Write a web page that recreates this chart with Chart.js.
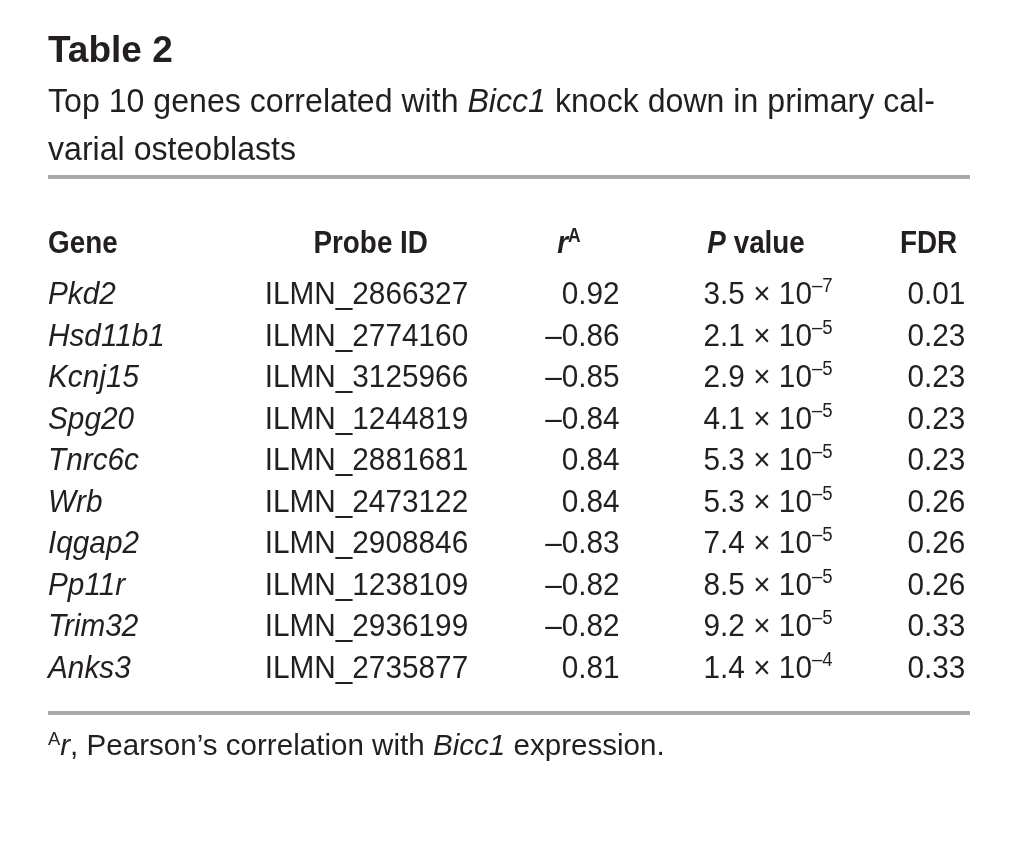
<!DOCTYPE html>
<html>
<head>
<meta charset="utf-8">
<script src="https://cdn.jsdelivr.net/npm/chart.js@4.4.1/dist/chart.umd.min.js"></script>
<style>
  body { margin: 0; background: #fff; }
  canvas { display: block; }
</style>
</head>
<body>
<canvas id="table" width="1018" height="866"></canvas>
<script>
// table data
const genes = ["Pkd2", "Hsd11b1", "Kcnj15", "Spg20", "Tnrc6c", "Wrb", "Iqgap2", "Pp11r", "Trim32", "Anks3"];
const probeIds = ["ILMN_2866327", "ILMN_2774160", "ILMN_3125966", "ILMN_1244819", "ILMN_2881681",
  "ILMN_2473122", "ILMN_2908846", "ILMN_1238109", "ILMN_2936199", "ILMN_2735877"];
const rValues = [0.92, -0.86, -0.85, -0.84, 0.84, 0.84, -0.83, -0.82, -0.82, 0.81];
const pMantissa = [3.5, 2.1, 2.9, 4.1, 5.3, 5.3, 7.4, 8.5, 9.2, 1.4];
const pExponent = [-7, -5, -5, -5, -5, -5, -5, -5, -5, -4];
const fdrValues = [0.01, 0.23, 0.23, 0.23, 0.23, 0.26, 0.26, 0.26, 0.33, 0.33];

const SANS = '"Liberation Sans", Arial, sans-serif';
const INK = "#231f20";
const RULE = "#a7a9ac";

const fmt = v => (v < 0 ? "\u2013" : "") + Math.abs(v).toFixed(2);

// draw a line of mixed-style text runs: [text, font, dy], squeezed by sx
function drawRuns(ctx, runs, x, y, align, sx) {
  let total = 0;
  runs.forEach(r => { ctx.font = r[1]; total += ctx.measureText(r[0]).width; });
  const start = align === "right" ? x - total * sx : align === "center" ? x - total * sx / 2 : x;
  ctx.save();
  ctx.translate(start, y);
  ctx.scale(sx, 1);
  ctx.textAlign = "left";
  ctx.textBaseline = "alphabetic";
  let cx = 0;
  runs.forEach(r => {
    ctx.font = r[1];
    ctx.fillText(r[0], cx, r[2] || 0);
    cx += ctx.measureText(r[0]).width;
  });
  ctx.restore();
}

const body = "32px " + SANS, bodyI = "italic 32px " + SANS, sup = "20px " + SANS;
const head = "bold 32px " + SANS, headI = "italic bold 32px " + SANS, headSup = "bold 20px " + SANS;
const BODY_SX = 0.93, HEAD_SX = 0.87, SUB_SX = 0.973;

// column anchors on the x scale (0..1 across the table width)
const col = { gene: 0, probeHead: 0.350, probe: 0.235, rHead: 0.565, r: 0.620,
  pHead: 0.768, p: 0.711, fdrHead: 0.986, fdr: 0.995 };

const tablePlugin = {
  id: "tableText",
  afterDraw(chart) {
    const { ctx, chartArea, scales: { x, y } } = chart;
    const X = v => x.getPixelForValue(v);
    const base = 11; // baseline below row centre
    ctx.fillStyle = INK;

    // title block
    drawRuns(ctx, [["Table 2", "bold 37px " + SANS]], chartArea.left, 62, "left", 1);
    const sub = "33px " + SANS, subI = "italic 33px " + SANS;
    drawRuns(ctx, [["Top 10 genes correlated with ", sub], ["Bicc1", subI], [" knock down in primary cal-", sub]],
      chartArea.left, 112, "left", SUB_SX);
    drawRuns(ctx, [["varial osteoblasts", sub]], chartArea.left, 160, "left", SUB_SX);

    // rules
    ctx.fillStyle = RULE;
    ctx.fillRect(chartArea.left, chartArea.top - 118, chartArea.width, 4);
    ctx.fillRect(chartArea.left, chartArea.bottom + 44, chartArea.width, 4);
    ctx.fillStyle = INK;

    // header
    const hy = chartArea.top - 51 + base;
    drawRuns(ctx, [["Gene", head]], X(col.gene), hy, "left", HEAD_SX);
    drawRuns(ctx, [["Probe ID", head]], X(col.probeHead), hy, "center", HEAD_SX);
    drawRuns(ctx, [["r", headI], ["A", headSup, -11]], X(col.rHead), hy, "center", HEAD_SX);
    drawRuns(ctx, [["P", headI], [" value", head]], X(col.pHead), hy, "center", HEAD_SX);
    drawRuns(ctx, [["FDR", head]], X(col.fdrHead), hy, "right", HEAD_SX);

    // rows
    genes.forEach((g, i) => {
      const ry = y.getPixelForValue(i) + base;
      drawRuns(ctx, [[g, bodyI]], X(col.gene), ry, "left", BODY_SX);
      drawRuns(ctx, [[probeIds[i], body]], X(col.probe), ry, "left", BODY_SX);
      drawRuns(ctx, [[fmt(rValues[i]), body]], X(col.r), ry, "right", BODY_SX);
      drawRuns(ctx, [[pMantissa[i].toFixed(1) + " \u00d7 10", body],
        [(pExponent[i] < 0 ? "\u2013" : "") + Math.abs(pExponent[i]), sup, -12]], X(col.p), ry, "left", BODY_SX);
      drawRuns(ctx, [[fdrValues[i].toFixed(2), body]], X(col.fdr), ry, "right", BODY_SX);
    });

    // footnote
    const foot = "29px " + SANS, footI = "italic 29px " + SANS;
    drawRuns(ctx, [["A", "18px " + SANS, -10], ["r", footI], [", Pearson\u2019s correlation with ", foot],
      ["Bicc1", footI], [" expression.", foot]], chartArea.left, chartArea.bottom + 88, "left", 1.02);
  }
};

new Chart(document.getElementById("table"), {
  type: "scatter",
  data: {
    datasets: [{
      data: genes.map((g, i) => ({ x: 0, y: i })),
      pointRadius: 0,
      showLine: false
    }]
  },
  options: {
    responsive: false,
    animation: false,
    events: [],
    layout: { padding: { left: 48, right: 48, top: 293, bottom: 199 } },
    plugins: { legend: { display: false }, tooltip: { enabled: false } },
    scales: {
      x: { type: "linear", min: 0, max: 1, display: false },
      y: { type: "category", labels: genes, offset: false, display: false }
    }
  },
  plugins: [tablePlugin]
});
</script>
</body>
</html>
